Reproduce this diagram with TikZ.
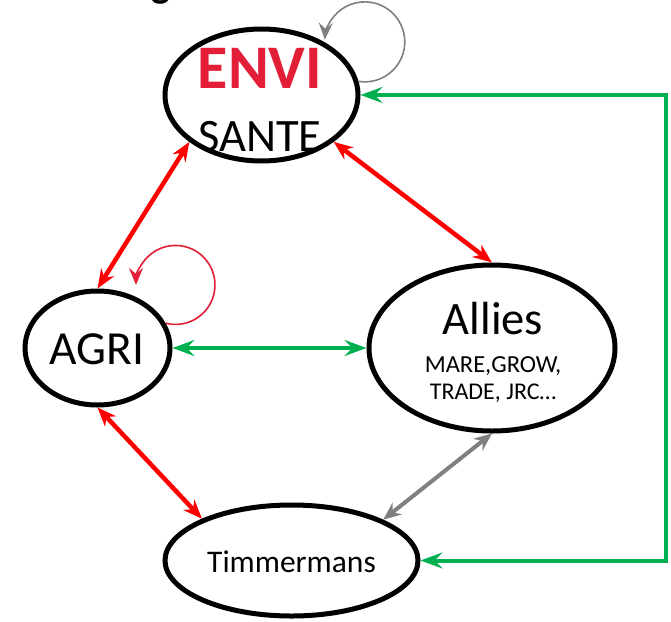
\documentclass[tikz,border=0pt]{standalone}
\usepackage{fontspec}
\setmainfont{Carlito}
\usetikzlibrary{arrows.meta,shapes.geometric}
\definecolor{envired}{RGB}{227,30,55}
\definecolor{pred}{RGB}{255,0,0}
\definecolor{pgreen}{RGB}{0,176,80}
\definecolor{pgray}{RGB}{128,128,128}
\begin{document}
\begin{tikzpicture}[x=1pt,y=-1pt,
  ell/.style={ellipse, draw=black, line width=5pt, inner sep=0pt},
  lbl/.style={anchor=base, inner sep=0pt, text=black},
  redarr/.style={draw=pred, line width=4.5pt, {Stealth[length=19pt,width=15pt,inset=6pt]}-{Stealth[length=19pt,width=15pt,inset=6pt]}},
  grayarr/.style={draw=pgray, line width=4pt, {Stealth[length=18pt,width=15pt,inset=6pt]}-{Stealth[length=18pt,width=15pt,inset=6pt]}},
  greenarr/.style={draw=pgreen, line width=4pt, {Stealth[length=22pt,width=16pt,inset=8pt]}-{Stealth[length=22pt,width=16pt,inset=8pt]}},
  loopgray/.style={draw=pgray, line width=1.6pt, -{Stealth[length=17pt,width=14pt,inset=6pt]}},
  loopred/.style={draw=envired, line width=1.6pt, -{Stealth[length=17pt,width=14pt,inset=6pt]}}
]
\useasboundingbox (0,0) rectangle (671,621);
\fill[white] (0,0) rectangle (671,621);

\begin{scope}
\clip (0,0) rectangle (671,621);
\node[lbl, font=\bfseries\fontsize{40}{48}\selectfont] (ttl) at (161,-2) {g};
\end{scope}

\node[ell, minimum width=193pt, minimum height=132pt] (envi) at (261.5,95) {};
\node[ell, minimum width=145pt, minimum height=114pt] (agri) at (97.5,348) {};
\node[ell, minimum width=246pt, minimum height=166pt] (allies) at (492,348) {};
\node[ell, minimum width=253pt, minimum height=111pt] (tim) at (291.5,560.5) {};

\node[lbl, text=envired, font=\bfseries\fontsize{62}{74}\selectfont] (envitxt) at (260,88) {ENVI};
\node[lbl, font=\fontsize{46.5}{56}\selectfont] (santetxt) at (260,151) {SANTE};
\node[lbl, font=\fontsize{47.5}{57}\selectfont] (agritxt) at (96.5,364) {AGRI};
\node[lbl, font=\fontsize{46.5}{56}\selectfont] (alliestxt) at (493,334) {Allies};
\node[lbl, font=\fontsize{24.5}{29}\selectfont] (maretxt) at (493,372) {MARE,GROW,};
\node[lbl, font=\fontsize{24}{29}\selectfont] (tradetxt) at (493,399) {TRADE, JRC…};
\node[lbl, font=\fontsize{31.5}{38}\selectfont] (timtxt) at (291.5,572) {Timmermans};

% red double arrows
\draw[redarr] (envi.213.9) -- (agri.90);
\draw[redarr] (envi.-33.1) -- (allies.90);
\draw[redarr] (agri.270) -- (tim.155.6);
% gray double arrow
\draw[grayarr] (allies.270) -- (tim.24.6);
% green arrows
\draw[greenarr] (agri.east) -- (allies.west);
\coordinate (gc) at (666,0);
\draw[greenarr] (tim.east) -- (tim.east -| gc) -- (envi.east -| gc) -- (envi.east);

% self loops
\draw[loopgray] (envi.8) arc[start angle=99, end angle=-177, radius=40];
\draw[loopred] (agri.20) arc[start angle=104.4, end angle=-180, radius=39.5];
\end{tikzpicture}
\end{document}
